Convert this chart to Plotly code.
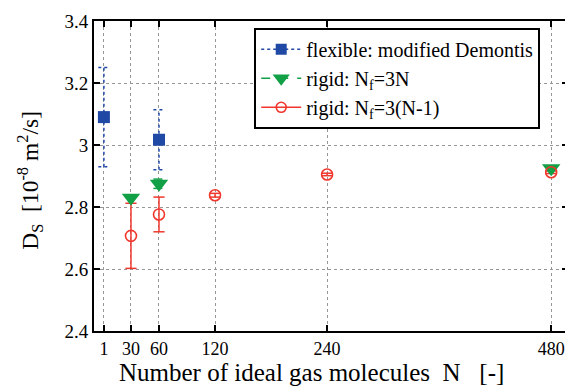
import plotly.graph_objects as go

# ---- data ----
flex_N = [1, 60]
flex_D = [3.09, 3.017]
flex_err = [0.16, 0.097]

rigid3N_N = [30, 60, 480]
rigid3N_D = [2.83, 2.875, 2.925]
rigid3N_err = [0.0, 0.015, 0.0]

rigidNm1_N = [30, 60, 120, 240, 480]
rigidNm1_D = [2.707, 2.776, 2.838, 2.905, 2.912]
rigidNm1_err = [0.105, 0.056, 0.006, 0.004, 0.004]

x_ticks = [1, 30, 60, 120, 240, 480]
y_ticks = [2.4, 2.6, 2.8, 3.0, 3.2, 3.4]
y_ticklabels = ["2.4", "2.6", "2.8", "3", "3.2", "3.4"]

x_title = "Number of ideal gas molecules  N   [-]"
y_title = "D<sub>S</sub>  [10<sup>-8</sup> m<sup>2</sup>/s]"

BLUE = "rgb(32,72,165)"
GREEN = "rgb(18,160,70)"
RED = "rgb(240,55,45)"
FONT = "'Times New Roman', 'Liberation Serif', Times, serif"
CAP = 6  # half cap width in x units


def errbar_segments(xs, ys, es):
    lx, ly = [], []
    for x, y, e in zip(xs, ys, es):
        if e <= 0:
            continue
        lo, hi = y - e, y + e
        lx += [x, x, None, x - CAP, x + CAP, None, x - CAP, x + CAP, None]
        ly += [lo, hi, None, hi, hi, None, lo, lo, None]
    return lx, ly


fig = go.Figure()

series = [
    (flex_N, flex_D, flex_err, BLUE, "dot", "square", 12, "flexible: modified Demontis"),
    (rigid3N_N, rigid3N_D, rigid3N_err, GREEN, "dash", "triangle-down", 16, "rigid: N<sub>f</sub>=3N"),
    (rigidNm1_N, rigidNm1_D, rigidNm1_err, RED, "solid", "circle-open", 11, "rigid: N<sub>f</sub>=3(N-1)"),
]

for xs, ys, es, col, dash, sym, size, name in series:
    ex, ey = errbar_segments(xs, ys, es)
    fig.add_trace(go.Scatter(x=ex, y=ey, mode="lines", line=dict(color=col, width=1.5, dash=dash),
                             showlegend=False, hoverinfo="skip"))

for xs, ys, es, col, dash, sym, size, name in series:
    mline = dict(color=col, width=1.6) if sym.endswith("open") else dict(width=0)
    fig.add_trace(go.Scatter(x=xs, y=ys, mode="markers",
                             marker=dict(symbol=sym, size=size, color=col, line=mline),
                             showlegend=False))
    # legend sample
    fig.add_trace(go.Scatter(x=[None], y=[None], mode="lines+markers", name=name,
                             line=dict(color=col, width=1.5, dash=dash),
                             marker=dict(symbol=sym, size=size - 1, color=col, line=mline)))

axis_common = dict(showline=True, linecolor="black", linewidth=2, mirror="ticks",
                   ticks="inside", ticklen=6, tickwidth=1.5, tickcolor="black",
                   showgrid=True, gridcolor="rgb(150,150,150)", griddash="dot", gridwidth=1,
                   zeroline=False, ticklabeloverflow="allow")

fig.update_xaxes(range=[-9.6, 498], tickvals=x_ticks, ticktext=[str(t) for t in x_ticks],
                 tickfont=dict(family=FONT, size=18, color="black"), **axis_common)
fig.update_yaxes(range=[2.4, 3.4], tickvals=y_ticks, ticktext=y_ticklabels,
                 tickfont=dict(family=FONT, size=19, color="black"), **axis_common)

fig.add_annotation(text=x_title, xref="paper", yref="paper", x=0.458, y=-0.135,
                   xanchor="center", yanchor="middle", showarrow=False,
                   font=dict(family=FONT, size=25, color="black"))
fig.add_annotation(text=y_title, xref="paper", yref="paper", x=-0.134, y=0.486,
                   xanchor="center", yanchor="middle", showarrow=False, textangle=-90,
                   font=dict(family=FONT, size=23.5, color="black"))

fig.update_layout(
    width=565, height=384,
    margin=dict(l=86, r=3, t=8, b=61),
    paper_bgcolor="white", plot_bgcolor="white",
    font=dict(family=FONT, color="black"),
    legend=dict(x=0.338, y=0.978, xanchor="left", yanchor="top",
                bgcolor="white", bordercolor="black", borderwidth=2,
                font=dict(family=FONT, size=20, color="black"),
                tracegroupgap=0, itemwidth=40),
)

fig.write_html("out.html")
